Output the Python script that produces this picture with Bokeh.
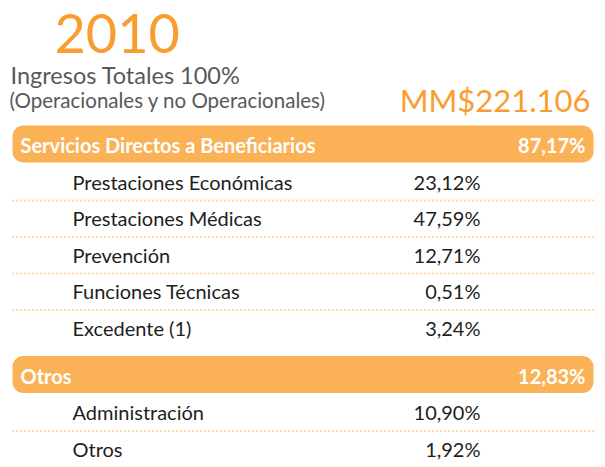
from bokeh.plotting import figure
from bokeh.models import Range1d, BoxAnnotation
from bokeh.core.properties import value
from bokeh.embed import file_html
from bokeh.resources import INLINE

# ---- data ----
year = "2010"
title = "Ingresos Totales 100%"
subtitle = "(Operacionales y no Operacionales)"
total = "MM$221.106"
groups = ["Servicios Directos a Beneficiarios", "Otros"]
group_values = [87.17, 12.83]
group1_items = ["Prestaciones Económicas", "Prestaciones Médicas", "Prevención",
                "Funciones Técnicas", "Excedente (1)"]
group1_values = [23.12, 47.59, 12.71, 0.51, 3.24]
group2_items = ["Administración", "Otros"]
group2_values = [10.90, 1.92]

items = [group1_items, group2_items]
item_values = [group1_values, group2_values]

def fmt(v):
    return f"{v:.2f}".replace(".", ",") + "%"

# ---- styles ----
ORANGE = "#F99D31"
BAR = "#FBB257"
GREY = "#58595B"
INK = "#1E1E1E"
FONT = "Lato"

W, H = 605, 467
p = figure(width=W, height=H, output_backend="svg", toolbar_location=None,
           x_range=Range1d(0, W), y_range=Range1d(H, 0),
           min_border=0, outline_line_color=None)
p.axis.visible = False
p.grid.visible = False
p.background_fill_color = "white"

# header texts
p.text(x=[54], y=[32.5], text=[year], text_font=value(FONT), text_font_size="54px",
       text_color=ORANGE, text_baseline="middle", text_align="left")
p.text(x=[10], y=[74], text=[title], text_font=value(FONT), text_font_size="23.5px",
       text_color=GREY, text_baseline="middle")
p.text(x=[9], y=[99.5], text=[subtitle], text_font=value(FONT), text_font_size="20.5px",
       text_color=GREY, text_baseline="middle")
p.text(x=[590], y=[99], text=[total], text_font=value(FONT), text_font_size="31px",
       text_color=ORANGE, text_baseline="middle", text_align="right")

LEFT, RIGHT = 12, 593
BAR_H = 37
ROW_H = 36.5

y = 143.5
bar_y, bar_txt, bar_val = [], [], []
row_lbl, row_val, row_y = [], [], []
dots_y = []
for gi, g in enumerate(groups):
    p.add_layout(BoxAnnotation(left=LEFT, right=RIGHT, top=y - BAR_H / 2, bottom=y + BAR_H / 2,
                               fill_color=BAR, fill_alpha=1, line_color=None,
                               border_radius=11, level="underlay"))
    bar_y.append(y + 1)
    bar_txt.append(g)
    bar_val.append(fmt(group_values[gi]))
    y += 37.5
    n = len(items[gi])
    for k, (lab, v) in enumerate(zip(items[gi], item_values[gi])):
        row_lbl.append(lab)
        row_val.append(fmt(v))
        row_y.append(y)
        if k < n - 1:
            dots_y.append(y + 19)
        y += ROW_H
    y += 10.5

p.text(x=[20] * len(bar_y), y=bar_y, text=bar_txt, text_font=value(FONT),
       text_font_size="20px", text_font_style="bold", text_color="white",
       text_baseline="middle")
p.text(x=[585] * len(bar_y), y=bar_y, text=bar_val, text_font=value(FONT),
       text_font_size="20px", text_font_style="bold", text_color="white",
       text_baseline="middle", text_align="right")

p.text(x=[72] * len(row_y), y=row_y, text=row_lbl, text_font=value(FONT),
       text_font_size="20px", text_color=INK, text_baseline="middle")
p.text(x=[480] * len(row_y), y=row_y, text=row_val, text_font=value(FONT),
       text_font_size="20px", text_color=INK, text_baseline="middle", text_align="right")

for dy in dots_y:
    p.line(x=[LEFT, RIGHT], y=[dy, dy], line_color=BAR, line_width=2, line_dash="1 3")

open("out.html", "w").write(file_html(p, INLINE))
